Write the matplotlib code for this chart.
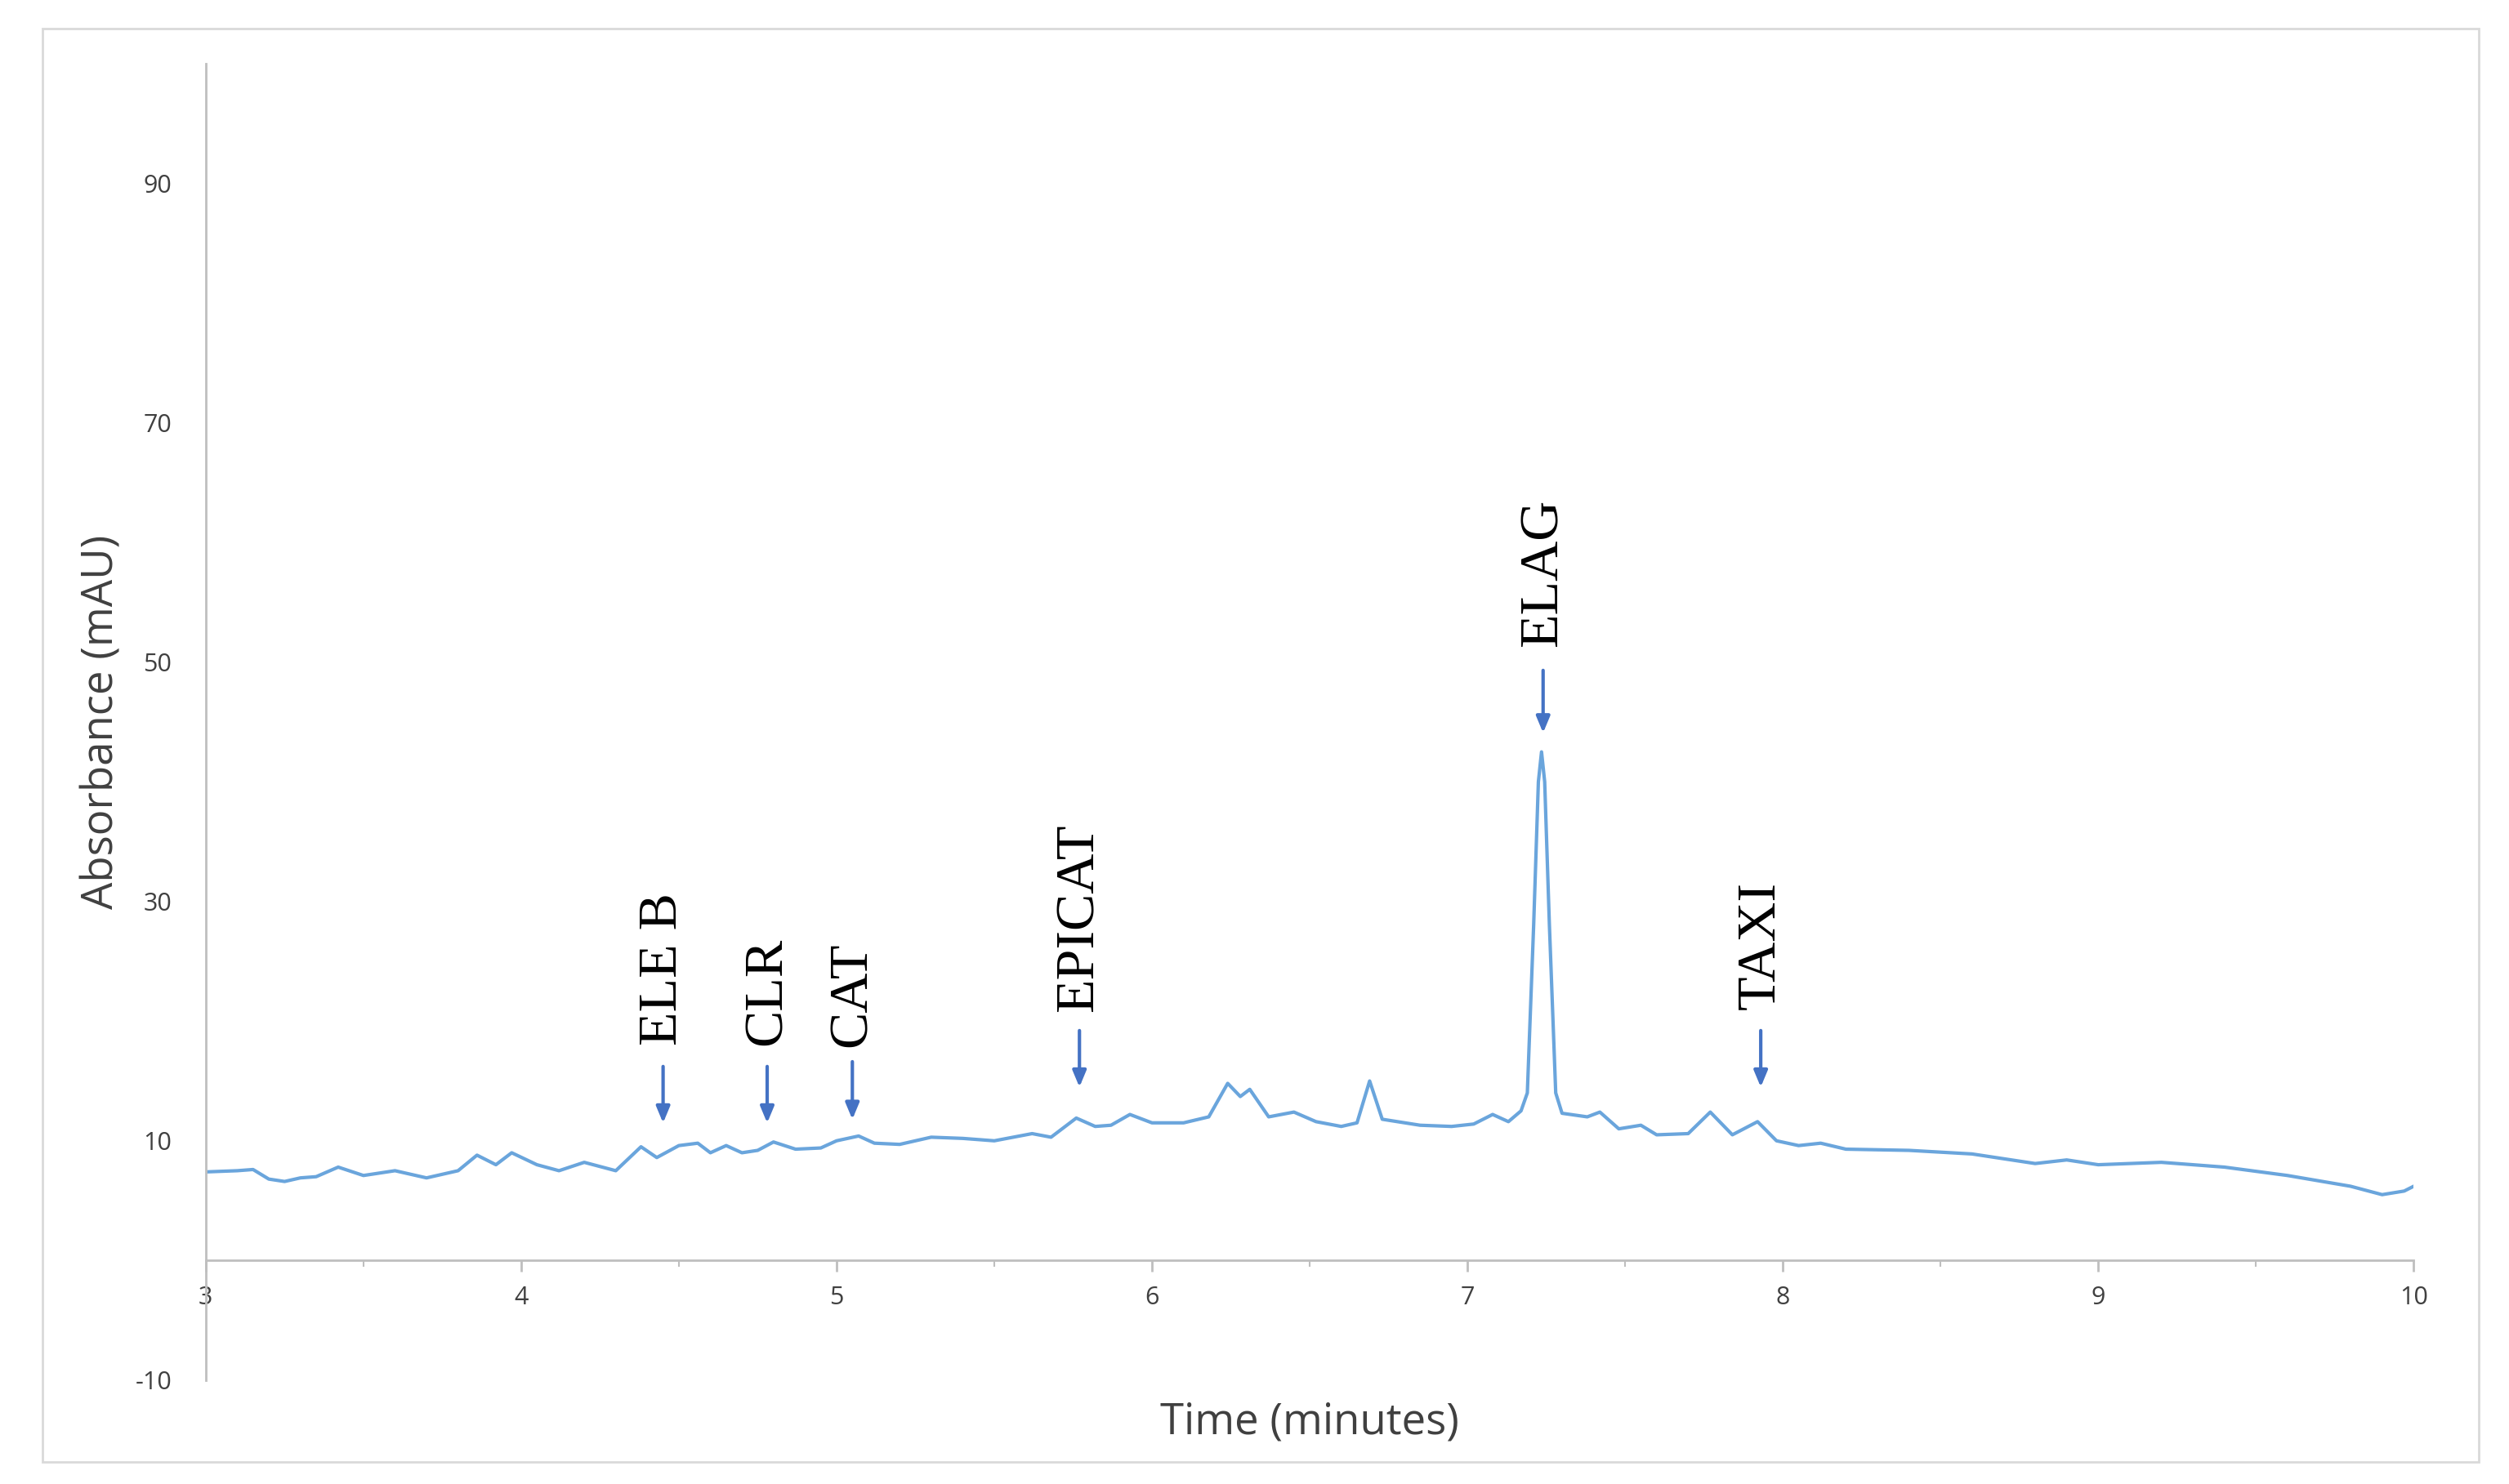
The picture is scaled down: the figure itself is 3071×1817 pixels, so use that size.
import matplotlib
matplotlib.use("Agg")
import matplotlib.pyplot as plt
from matplotlib.patches import Rectangle

plt.rcParams["axes.unicode_minus"] = False

time = [3.0,3.1,3.15,3.2,3.25,3.3,3.35,3.42,3.5,3.6,3.7,3.8,3.86,3.92,3.97,4.05,4.12,4.2,4.3,4.38,4.43,4.5,4.56,4.6,4.65,4.7,4.75,4.8,4.87,4.95,5.0,5.07,5.12,5.2,5.3,5.4,5.5,5.62,5.68,5.76,5.82,5.87,5.93,6.0,6.1,6.18,6.24,6.28,6.31,6.37,6.45,6.52,6.6,6.65,6.69,6.73,6.85,6.95,7.02,7.08,7.13,7.17,7.19,7.21,7.225,7.235,7.245,7.26,7.28,7.3,7.38,7.42,7.48,7.55,7.6,7.7,7.77,7.84,7.92,7.98,8.05,8.12,8.2,8.4,8.6,8.8,8.9,9.0,9.2,9.4,9.6,9.8,9.9,9.97,10.0]
absorb = [7.4,7.5,7.6,6.8,6.6,6.9,7.0,7.8,7.1,7.5,6.9,7.5,8.8,8.0,9.0,8.0,7.5,8.2,7.5,9.5,8.6,9.6,9.8,9.0,9.6,9.0,9.2,9.9,9.3,9.4,10.0,10.4,9.8,9.7,10.3,10.2,10.0,10.6,10.3,11.9,11.2,11.3,12.2,11.5,11.5,12.0,14.8,13.7,14.3,12.0,12.4,11.6,11.2,11.5,15.0,11.8,11.3,11.2,11.4,12.2,11.6,12.5,14,28,40,42.5,40,28,14,12.3,12.0,12.4,11.0,11.3,10.5,10.6,12.4,10.5,11.6,10.0,9.6,9.8,9.3,9.2,8.9,8.1,8.4,8.0,8.2,7.8,7.1,6.2,5.5,5.8,6.2]

labels = ["ELE B", "CLR", "CAT", "EPICAT", "ELAG", "TAXI"]
label_x = [4.45, 4.78, 5.05, 5.77, 7.24, 7.93]
arrow_top = [16.4, 16.4, 16.8, 19.4, 49.5, 19.4]
arrow_tip = [11.3, 11.3, 11.6, 14.3, 43.9, 14.3]
text_y = [18.0, 18.0, 17.8, 20.8, 51.3, 21.0]

fig = plt.figure(figsize=(30.71, 18.17), dpi=100)
fig.patches.append(Rectangle((0.017, 0.015), 0.971, 0.966, transform=fig.transFigure,
                             fill=False, edgecolor="#d9d9d9", linewidth=2))
ax = fig.add_axes([0.082, 0.070, 0.880, 0.887])
ax.plot(time, absorb, color="#6aa5dc", linewidth=3)
ax.set_xlim(3, 10)
ax.set_ylim(-10, 100)
ax.set_yticks([-10, 10, 30, 50, 70, 90])
ax.set_xticks(range(3, 11))
ax.set_xticks([3.5,4.5,5.5,6.5,7.5,8.5,9.5], minor=True)
for s in ["top", "right"]:
    ax.spines[s].set_visible(False)
ax.spines["bottom"].set_position(("data", 0))
ax.spines["bottom"].set_color("#bfbfbf")
ax.spines["left"].set_color("#bfbfbf")
ax.spines["bottom"].set_linewidth(2)
ax.spines["left"].set_linewidth(2)
ax.tick_params(axis="y", length=0, pad=30, labelsize=22, labelcolor="#404040")
ax.tick_params(axis="x", which="major", length=10, width=2, color="#bfbfbf", labelsize=22, labelcolor="#404040", pad=12)
ax.tick_params(axis="x", which="minor", length=6, width=1.5, color="#bfbfbf")
for lab in ax.get_xticklabels() + ax.get_yticklabels():
    lab.set_family("Open Sans")
ax.set_xlabel("Time (minutes)", fontsize=38, color="#404040", family="Open Sans", labelpad=80)
ax.set_ylabel("Absorbance (mAU)", fontsize=38, color="#404040", family="Open Sans", labelpad=10)

for lab, x, at, tip, ty in zip(labels, label_x, arrow_top, arrow_tip, text_y):
    ax.annotate("", xy=(x, tip), xytext=(x, at),
                arrowprops=dict(arrowstyle="-|>,head_length=1.2,head_width=0.5", color="#4472c4", lw=3))
    ax.text(x, ty, lab, rotation=90, ha="center", va="bottom", fontsize=49,
            family="Liberation Serif", color="black")

fig.savefig("out.png", dpi=100)
